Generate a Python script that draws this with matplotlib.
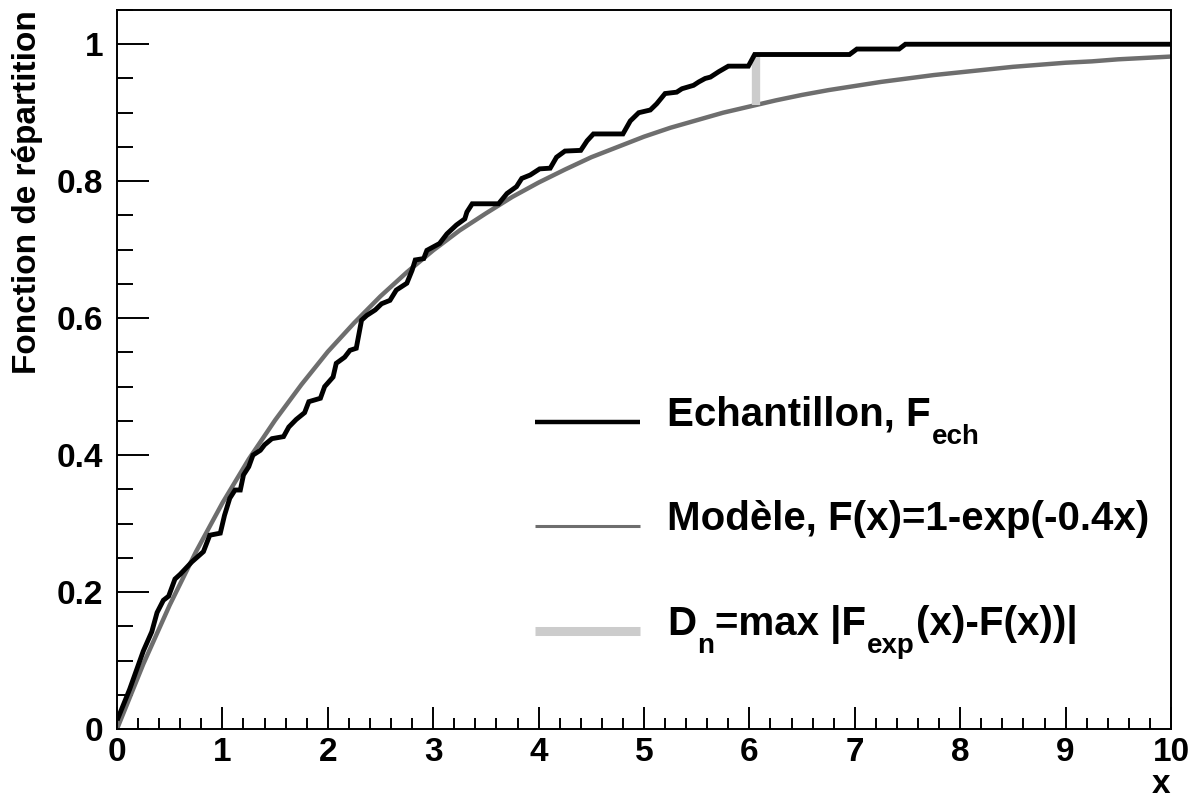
import matplotlib
matplotlib.use('Agg')
import matplotlib.pyplot as plt
from matplotlib.lines import Line2D
from matplotlib.ticker import MultipleLocator

plt.rcParams['font.family'] = ['Liberation Sans', 'DejaVu Sans']
plt.rcParams['font.weight'] = 'bold'

ech_x = [0.01, 0.12, 0.25, 0.33, 0.38, 0.44, 0.49, 0.55, 0.60, 0.71, 0.82, 0.88, 0.98,
         1.02, 1.07, 1.12, 1.17, 1.20, 1.25, 1.29, 1.36, 1.40, 1.47, 1.58, 1.63, 1.70,
         1.78, 1.82, 1.93, 1.97, 2.05, 2.08, 2.16, 2.21, 2.27, 2.32, 2.37, 2.45, 2.51,
         2.59, 2.65, 2.75, 2.80, 2.83, 2.91, 2.94, 3.00, 3.06, 3.13, 3.22, 3.30, 3.32,
         3.37, 3.62, 3.70, 3.79, 3.84, 3.92, 4.01, 4.11, 4.17, 4.25, 4.40, 4.46, 4.52,
         4.80, 4.87, 4.95, 5.06, 5.12, 5.20, 5.31, 5.36, 5.47, 5.52, 5.58, 5.63, 5.71,
         5.80, 5.99, 6.05, 6.95, 7.02, 7.42, 7.48, 10.0]
ech_y = [0.016, 0.058, 0.114, 0.142, 0.170, 0.188, 0.194, 0.219, 0.226, 0.244, 0.259, 0.283, 0.286,
         0.312, 0.337, 0.349, 0.349, 0.371, 0.383, 0.400, 0.407, 0.415, 0.424, 0.427, 0.441, 0.452,
         0.462, 0.478, 0.483, 0.500, 0.514, 0.534, 0.543, 0.553, 0.556, 0.597, 0.604, 0.612, 0.621,
         0.626, 0.641, 0.651, 0.670, 0.685, 0.687, 0.699, 0.704, 0.709, 0.723, 0.736, 0.745, 0.755,
         0.767, 0.767, 0.782, 0.792, 0.804, 0.809, 0.818, 0.819, 0.835, 0.844, 0.845, 0.859, 0.869,
         0.869, 0.888, 0.900, 0.904, 0.913, 0.928, 0.930, 0.935, 0.940, 0.945, 0.950, 0.952, 0.960,
         0.968, 0.968, 0.985, 0.985, 0.993, 0.993, 1.000, 1.000]

# model F(x)=1-exp(-0.4x), values read at steps of 0.25
mod_x = [i * 0.25 for i in range(41)]
mod_y = [0.000, 0.095, 0.181, 0.259, 0.330, 0.394, 0.451, 0.503, 0.551, 0.593, 0.632,
         0.667, 0.699, 0.728, 0.753, 0.777, 0.798, 0.817, 0.835, 0.850, 0.865, 0.878,
         0.889, 0.900, 0.909, 0.918, 0.926, 0.933, 0.939, 0.945, 0.950, 0.955, 0.959,
         0.963, 0.967, 0.970, 0.973, 0.975, 0.978, 0.980, 0.982]

# max distance
dn_x = 6.06
dn_lo, dn_hi = 0.911, 0.985

# legend texts, as (text, is_subscript) pieces
labels = [[('Echantillon, F', False), ('ech', True)],
          [('Modèle, F(x)=1-exp(-0.4x)', False)],
          [('D', False), ('n', True), ('=max |F', False), ('exp', True), ('(x)-F(x))|', False)]]

W, H = 1188, 798
fig = plt.figure(figsize=(W / 100, H / 100), dpi=100)
ax = fig.add_axes([117 / W, 1 - 729 / H, (1171 - 117) / W, (729 - 10) / H])

ax.plot(mod_x, mod_y, color='#6e6e6e', lw=3.2, solid_capstyle='butt')
ax.plot([dn_x, dn_x], [dn_lo, dn_hi], color='#cccccc', lw=6, solid_capstyle='butt')
ax.plot(ech_x, ech_y, color='black', lw=3.5, solid_joinstyle='miter')

ax.set_xlim(0, 10)
ax.set_ylim(0, 1.05)
ax.xaxis.set_major_locator(MultipleLocator(1))
ax.xaxis.set_minor_locator(MultipleLocator(0.2))
ax.yaxis.set_minor_locator(MultipleLocator(0.05))
ax.set_yticks([0, 0.2, 0.4, 0.6, 0.8, 1.0])
ax.set_yticklabels(['0', '0.2', '0.4', '0.6', '0.8', '1'])
ax.tick_params(axis='x', which='major', direction='in', length=16, width=1.4,
               labelsize=24, pad=6)
ax.tick_params(axis='x', which='minor', direction='in', length=8, width=1.4)
ax.tick_params(axis='y', which='major', direction='in', length=23, width=1.4,
               labelsize=24, pad=10)
ax.tick_params(axis='y', which='minor', direction='in', length=11.5, width=1.4)
for lab in ax.get_xticklabels() + ax.get_yticklabels():
    lab.set_fontweight('bold')
for sp in ax.spines.values():
    sp.set_linewidth(1.4)

fig.text(28 / W, 1 - 10 / H, 'Fonction de répartition', rotation=90,
         ha='center', va='top', fontsize=24, fontweight='bold')
fig.text(1170 / W, 1 - 793 / H, 'x', ha='right', va='baseline',
         fontsize=24, fontweight='bold')

# legend drawn by hand, subscripts placed piece by piece
renderer = fig.canvas.get_renderer()
leg_y = [422, 526, 631]
leg_style = [dict(color='black', lw=3.2), dict(color='#6e6e6e', lw=2.2),
             dict(color='#cccccc', lw=6.5)]
for py, st, pieces in zip(leg_y, leg_style, labels):
    fy = 1 - py / H
    fig.add_artist(Line2D([535 / W, 640 / W], [fy, fy], solid_capstyle='butt', **st))
    px = 667
    for txt, sub in pieces:
        base = py + 4 + (18 if sub else 0)
        t = fig.text(px / W, 1 - base / H, txt, ha='left', va='baseline',
                     fontsize=20 if sub else 29, fontweight='bold')
        px += t.get_window_extent(renderer).width + 1

fig.savefig('out.png', dpi=100)
